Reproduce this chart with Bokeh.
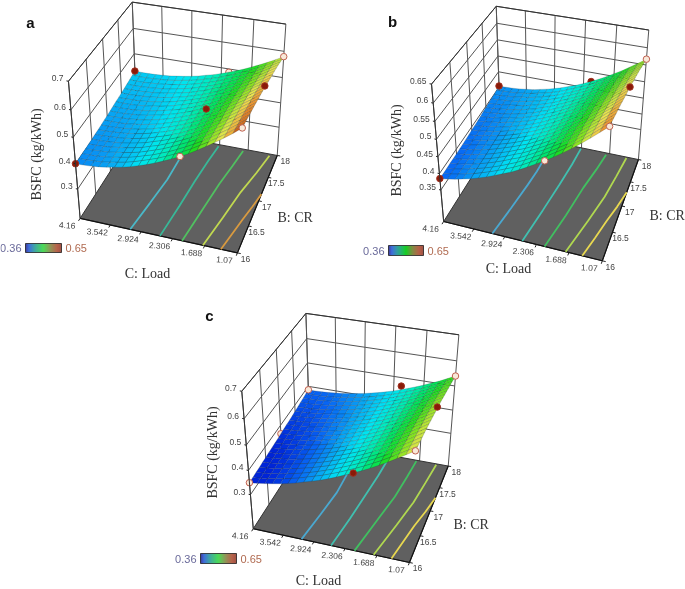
from bokeh.plotting import figure
from bokeh.embed import file_html
from bokeh.resources import INLINE
from bokeh.core.properties import value
import numpy as np

LOAD_TICKS = [4.16, 3.542, 2.924, 2.306, 1.688, 1.07]
CR_TICKS = [16, 16.5, 17, 17.5, 18]
Z_TICKS_A = [0.3, 0.4, 0.5, 0.6, 0.7]
Z_TICKS_B = [0.35, 0.4, 0.45, 0.5, 0.55, 0.6, 0.65]
Z_TICKS_C = [0.3, 0.4, 0.5, 0.6, 0.7]

# BSFC x 1000; rows CR 16 -> 18, columns Load 4.16 -> 1.07
SURF_A = [
[400,401,403,406,411,417,423,431,441,451,463,476,490,505,521,539,558,578,599,621,645],
[401,402,404,406,411,417,423,431,441,451,462,475,489,504,520,538,556,576,597,619,643],
[402,402,404,407,411,417,423,431,441,450,462,474,488,503,519,536,555,575,595,617,641],
[402,403,405,407,412,417,423,430,440,450,461,474,488,502,518,535,553,573,593,615,638],
[403,403,405,408,412,417,423,430,440,449,461,473,487,501,517,533,552,571,592,614,636],
[404,404,406,408,412,417,423,430,440,449,460,472,486,500,516,532,550,570,590,612,634],
[405,405,407,409,412,417,423,430,440,449,460,471,485,499,515,531,548,568,588,609,631],
[406,406,408,410,413,418,424,431,440,449,460,471,485,498,514,530,547,566,587,607,628],
[407,407,408,410,414,418,424,431,440,449,459,471,484,497,513,528,545,564,584,604,626],
[409,409,409,411,415,419,425,431,440,449,459,470,483,496,511,527,544,562,581,601,623],
[410,410,411,413,416,420,426,432,440,449,459,470,482,495,510,525,542,560,579,599,620],
[412,411,412,414,417,421,427,433,441,449,459,470,482,494,509,524,540,557,576,596,616],
[414,413,413,415,418,422,428,434,441,449,459,469,481,493,508,523,538,555,574,593,612],
[416,415,415,417,420,424,429,435,442,450,459,469,480,493,506,520,536,552,570,589,608],
[417,416,417,418,421,425,430,435,442,450,459,468,480,492,505,519,534,550,568,586,605],
[419,418,419,420,423,426,431,436,443,450,459,468,479,491,504,517,532,548,565,583,602],
[421,420,421,422,424,428,432,437,444,450,459,468,479,490,503,515,530,545,562,579,598],
[423,422,422,424,426,429,433,439,444,451,460,468,478,489,501,514,528,543,559,576,594],
[425,424,424,426,428,431,435,440,445,452,460,468,478,489,500,512,526,540,555,572,589],
[428,427,427,428,430,432,436,441,446,452,460,468,477,488,499,511,524,537,552,568,584],
[430,429,429,430,432,434,438,442,447,453,461,468,477,487,498,509,522,535,549,564,580]]
SURF_B = [
[385,389,394,400,406,414,422,432,442,452,464,477,491,505,520,536,553,571,590,610,630],
[385,389,394,400,406,414,422,431,441,451,463,476,490,504,519,534,551,569,588,608,628],
[385,389,394,400,406,413,421,430,440,450,462,475,488,502,517,532,549,567,586,606,626],
[386,389,394,399,406,413,421,430,440,449,461,474,487,501,516,531,548,565,584,603,623],
[386,389,394,399,405,412,420,429,439,448,460,472,485,499,514,529,546,563,582,601,621],
[386,389,394,399,405,412,420,428,438,447,459,471,484,498,513,528,544,561,580,599,619],
[387,390,394,399,405,412,420,428,437,446,458,470,483,496,511,526,542,559,578,596,616],
[387,390,395,399,405,412,419,427,436,445,457,468,481,495,509,524,540,557,575,594,613],
[388,391,395,400,405,411,419,427,436,445,456,467,480,493,507,522,538,555,573,591,610],
[389,391,396,400,405,411,418,426,435,444,455,466,478,492,506,520,536,552,570,589,608],
[390,392,396,400,405,411,418,425,434,443,454,465,477,490,504,518,534,550,568,586,605],
[391,393,397,401,405,411,418,425,433,442,453,464,476,488,502,516,532,547,565,583,602],
[392,394,398,401,406,411,418,424,433,442,452,463,475,486,500,514,529,544,562,580,598],
[393,395,398,402,406,411,417,424,432,441,451,461,473,485,498,511,527,542,559,576,595],
[395,396,399,402,407,411,417,423,432,440,450,460,471,483,496,509,524,539,556,573,591],
[396,397,400,403,407,411,417,423,431,439,449,459,470,481,494,507,522,537,553,570,588],
[397,398,401,404,408,411,417,423,430,438,448,458,468,479,492,505,519,534,550,566,584],
[399,400,402,404,408,412,417,423,430,438,447,457,467,478,490,503,516,531,547,562,579],
[400,401,403,405,409,412,417,423,430,437,446,455,465,476,488,500,514,527,543,558,575],
[402,403,404,406,409,413,418,423,429,436,445,454,464,474,486,497,511,524,540,555,571],
[404,404,405,407,410,413,418,423,429,436,444,452,462,472,483,495,508,521,536,551,567]]
SURF_C = [
[350,354,359,365,371,379,387,397,407,417,429,442,456,470,485,501,518,536,555,575,595],
[351,355,360,366,372,379,387,397,407,417,429,441,455,469,484,500,517,535,554,573,593],
[353,356,361,366,372,379,387,396,406,417,428,441,454,468,483,499,516,533,552,572,592],
[354,358,362,367,373,380,388,396,406,416,428,440,453,467,482,497,514,532,551,570,590],
[356,359,363,367,373,380,388,396,405,416,427,440,452,466,481,496,513,530,549,569,589],
[357,360,364,368,374,380,388,396,405,416,427,439,451,465,480,495,512,529,548,567,587],
[359,361,365,369,375,381,388,396,405,416,427,438,450,464,479,494,510,528,546,565,585],
[360,362,366,370,375,381,389,396,405,415,426,438,449,463,477,492,509,526,544,563,582],
[362,364,367,371,376,382,389,397,405,415,426,437,449,462,476,491,507,524,542,560,580],
[363,365,368,372,377,382,390,397,405,415,425,437,448,461,475,489,506,522,540,558,577],
[365,367,370,373,378,383,390,397,405,415,425,436,447,460,474,488,504,520,538,556,575],
[367,368,371,374,379,384,391,398,405,415,425,435,446,459,473,486,502,518,535,553,572],
[369,370,372,375,380,385,392,398,405,415,425,434,446,458,471,485,500,517,533,551,570],
[370,371,373,377,381,386,392,399,406,415,424,434,445,457,470,483,499,514,530,548,566],
[372,373,375,378,382,387,393,399,406,415,424,433,444,456,469,482,497,512,528,545,562],
[374,375,377,380,384,388,394,400,406,415,424,433,443,455,468,480,495,509,525,542,559],
[376,377,378,381,385,389,395,401,407,415,424,433,443,454,466,479,493,506,522,539,555],
[379,379,380,383,386,390,396,402,407,415,424,432,442,453,464,477,491,504,520,535,552],
[381,381,382,385,388,392,397,402,408,416,423,432,442,452,463,475,488,502,516,532,548],
[383,383,384,386,389,393,398,403,408,416,423,431,441,451,462,474,486,499,513,529,544],
[385,385,386,388,391,394,399,404,409,416,423,431,440,450,461,472,484,497,510,525,540]]

# load, CR, BSFC, 1 = dark marker above surface, 0 = pale marker
DOTS_A = [(2.15,18,.487,0),(4.16,16,.40,1),(2.15,16,.505,0),(1.07,16,.645,0),(1.07,17,.625,1),(1.07,18,.58,0),(2.15,17,.505,1),(4.16,18,.43,1)]
DOTS_B = [(2.15,18,.472,1),(4.16,16,.385,1),(2.15,16,.505,0),(1.07,16,.63,0),(1.07,17,.605,1),(1.07,18,.567,0),(4.16,18,.404,1)]
DOTS_C = [(4.16,17,.365,0),(2.15,18,.465,1),(4.16,16,.35,0),(2.15,16,.47,1),(1.07,16,.595,0),(1.07,17,.58,1),(1.07,18,.54,0),(4.16,18,.385,0)]
N_HIDDEN = [1,1,2]

CONT_A = [([3.14,3.05,2.97,2.95,2.99],[16,16.54,17.06,17.6,18]),([2.55,2.48,2.43,2.37,2.31],[16,16.6,17.14,17.6,17.96]),([2.12,2.03,1.94,1.85,1.78],[16,16.6,17.18,17.6,17.96]),([1.72,1.59,1.47,1.33,1.22],[16,16.55,17.1,17.55,17.96]),([1.38,1.30,1.22,1.14,1.07],[16,16.3,16.6,16.87,17.14])]
CONT_B = [([3.17,3.08,3.0,2.96,2.95],[16,16.5,17,17.3,17.5]),([2.58,2.48,2.40,2.34,2.31],[16,16.6,17.14,17.6,17.98]),([2.15,2.02,1.92,1.82,1.75],[16,16.6,17.18,17.6,17.96]),([1.75,1.58,1.45,1.38,1.32],[16,16.6,17.1,17.55,17.98]),([1.44,1.34,1.25,1.15,1.07],[16,16.33,16.66,16.97,17.28])]
CONT_C = [([3.17,3.08,3.0,3.0,3.0],[16,16.5,17,17.3,17.42]),([2.58,2.49,2.42,2.37,2.34],[16,16.55,17.1,17.5,17.88]),([2.12,1.98,1.85,1.79,1.75],[16,16.6,17.14,17.6,17.98]),([1.75,1.58,1.45,1.38,1.32],[16,16.6,17.1,17.55,17.98]),([1.41,1.33,1.25,1.15,1.07],[16,16.33,16.66,16.97,17.28])]
CONT_COL = ["#4ab8c8","#38b898","#50c060","#c0d850","#d89a40"]
CONT_COL_BC = ["#4aa8d0","#40c0b0","#40c060","#b0d850","#e8d850"]

STOPS_Z = [.36,.385,.41,.44,.47,.50,.53,.56,.59,.62,.65]
STOPS_C = ["#0024d8","#0864f4","#08a4f4","#00e4f4","#00ecbc","#00e464","#20dc20","#8ce420","#ece450","#ec9430","#982000"]
BAR_Z = [.36,.385,.43,.50,.56,.61,.65]
BAR_C = ["#000080","#0040d0","#008888","#10d020","#707020","#a03010","#801808"]

W,H = 685,589
p = figure(width=W,height=H,x_range=(0,W),y_range=(H,0),output_backend="svg",toolbar_location=None,min_border=0,outline_line_color=None,
           styles={"position":"fixed","left":"0px","top":"0px"})
p.xaxis.visible=False; p.yaxis.visible=False; p.grid.visible=False

def hex2(c): return np.array([int(c[i:i+2],16) for i in (1,3,5)],float)
def make_cmap(zs,cs):
    SC = np.array([hex2(c) for c in cs])
    def f(z):
        rgb=[np.interp(z,zs,SC[:,k]) for k in range(3)]
        return "#%02x%02x%02x"%tuple(int(x) for x in rgb)
    return f
cmap = make_cmap(STOPS_Z,STOPS_C)
barmap = make_cmap(BAR_Z,BAR_C)

def fit(anchors):
    A=[];b=[]
    for (X,Y,Z,x,y) in anchors:
        A.append([X,Y,Z,1,0,0,0,0,-x*X,-x*Y,-x*Z]);b.append(x)
        A.append([0,0,0,0,X,Y,Z,1,-y*X,-y*Y,-y*Z]);b.append(y)
    s=np.linalg.lstsq(np.array(A,float),np.array(b,float),rcond=None)[0]
    return np.append(s,1).reshape(3,4)

def panel(letter,lpos,anch,z0,ztop,zt,surf,dots,nh,cont,ccol,cbar,bsfc,cl,bcr):
    P=fit(anch)
    W_=lambda z:(np.asarray(z,float)-z0)/(ztop-z0)
    U=lambda l:(4.16-np.asarray(l,float))/3.09
    V=lambda c:(np.asarray(c,float)-16)/2
    def pr(u,v,w):
        u,v,w=np.broadcast_arrays(np.asarray(u,float),np.asarray(v,float),np.asarray(w,float))
        q=np.stack([u,v,w,np.ones_like(u)])
        r=P@q
        return r[0]/r[2],r[1]/r[2]
    def seg(u,v,w,**k):
        x,y=pr(u,v,w); p.line(x,y,**k)
    g=dict(line_color="#555555",line_width=1)
    for l in LOAD_TICKS:
        seg([U(l)]*2,[1,1],[0,1],**g)
    for c in CR_TICKS:
        seg([0,0],[V(c)]*2,[0,1],**g)
    for z in zt:
        seg([0,0,1],[0,1,1],[W_(z)]*3,**g)
    seg([0,0,1],[0,1,1],[1,1,1],line_color="#333333",line_width=1)
    fx,fy=pr([0,1,1,0],[0,0,1,1],[0,0,0,0])
    p.patch(fx,fy,fill_color="#606060",line_color="#333333",line_width=1)
    seg([0,1,1],[0,0,1],[0,0,0],line_color="#111111",line_width=1.2)
    for (ls,cs),col in zip(cont,ccol):
        x,y=pr(U(ls),V(cs),0*np.array(ls)); p.line(x,y,line_color=col,line_width=1.8)
    def dot(d):
        l,c,z,f=d
        x,y=pr(U(l),V(c),W_(z))
        p.scatter([float(x)],[float(y)],size=6.5,fill_color="#8a1a08" if f else "#f8e8d8",line_color="#a03020" if f else "#c06050",line_width=1)
    for d in dots[:nh]:
        dot(d)
    T=np.array(surf)/1000.0;nr,nc=T.shape
    xs=[];ys=[];cols=[]
    for j in range(nr-2,-1,-1):
        for i in range(nc-1):
            uu=[i/(nc-1),(i+1)/(nc-1),(i+1)/(nc-1),i/(nc-1)]
            vv=[j/(nr-1),j/(nr-1),(j+1)/(nr-1),(j+1)/(nr-1)]
            zz=[T[j,i],T[j,i+1],T[j+1,i+1],T[j+1,i]]
            x,y=pr(uu,vv,W_(zz))
            xs.append(list(x));ys.append(list(y));cols.append(cmap(np.mean(zz)))
    p.patches(xs,ys,fill_color=cols,line_color="#1a2a30",line_alpha=.38,line_width=.5)
    for d in dots[nh:]:
        dot(d)
    ts=dict(text_font=value("Liberation Sans"),text_font_size="8.5px",text_color="#444444")
    for l in LOAD_TICKS:
        x,y=pr(U(l),0,0); x1,y1=pr(U(l),-.025,0)
        p.line([x,x1],[y,y1],line_color="#222222")
        p.text([float(x)-13],[float(y)+7],text=["%g"%l],text_align="center",text_baseline="middle",angle=-.07,**ts)
    for c in CR_TICKS:
        x,y=pr(1,V(c),0); x1,y1=pr(1.02,V(c),0)
        p.line([x,x1],[y,y1],line_color="#222222")
        p.text([float(x)+8],[float(y)+6],text=["%g"%c],text_align="center",text_baseline="middle",**ts)
    for z in zt:
        x,y=pr(0,0,W_(z)); x1,y1=pr(-.012,0,W_(z))
        p.line([x,x1],[y,y1],line_color="#222222")
        p.text([float(x)-5],[float(y)-3],text=["%g"%z],text_align="right",text_baseline="middle",**ts)
    seg([0,0],[0,0],[0,1],line_color="#333333",line_width=1)
    bx0,bx1,by0,by1=cbar
    zs=np.linspace(.36,.65,37)
    dx=(bx1-bx0)/36
    p.quad(left=[bx0+k*dx for k in range(36)],right=[bx0+(k+1)*dx for k in range(36)],top=[by0]*36,bottom=[by1]*36,fill_color=[barmap(z) for z in zs[:-1]],line_color=None)
    p.quad(left=[bx0],right=[bx1],top=[by0],bottom=[by1],fill_color=None,line_color="#222222",line_width=.8)
    p.text([bx0-4],[(by0+by1)/2],text=["0.36"],text_align="right",text_baseline="middle",text_font=value("Liberation Sans"),text_font_size="11px",text_color="#6a6a9a")
    p.text([bx1+4],[(by0+by1)/2],text=["0.65"],text_align="left",text_baseline="middle",text_font=value("Liberation Sans"),text_font_size="11px",text_color="#b06a50")
    ls=dict(text_font=value("Liberation Serif"),text_font_size="14px",text_color="#333333",text_baseline="middle")
    p.text([bsfc[0]],[bsfc[1]],text=["BSFC (kg/kWh)"],text_align="center",angle=np.pi/2,**ls)
    p.text([cl[0]],[cl[1]],text=["C: Load"],text_align="center",**ls)
    p.text([bcr[0]],[bcr[1]],text=["B: CR"],text_align="left",**ls)
    p.text([lpos[0]],[lpos[1]],text=[letter],text_align="center",text_baseline="middle",text_font=value("Liberation Sans"),text_font_style="bold",text_font_size="15px",text_color="#111111")

panel("a",(30,22),[(0,0,0,80,217),(1,0,0,237,253),(1,1,0,277,154),(0,1,0,136,130),(0,0,1,67.5,81),(0,1,1,132.5,1),(1,1,1,285,24)],
      .18,.7,Z_TICKS_A,SURF_A,DOTS_A,N_HIDDEN[0],CONT_A,CONT_COL,(25,61,243,252),(36,154),(147,273),(277,217))
panel("b",(392,21),[(0,0,0,443,220),(1,0,0,602,261),(1,1,0,638,158),(0,1,0,500,132),(0,0,1,431,84),(0,1,1,496,5),(1,1,1,648,30)],
      .25,.65,Z_TICKS_B,SURF_B,DOTS_B,N_HIDDEN[1],CONT_B,CONT_COL_BC,(388,423,245,255),(396,150),(508,268),(649,215))
panel("c",(209,315),[(0,0,0,253,527),(1,0,0,409,563),(1,1,0,448,464),(0,1,0,309,442),(0,0,1,241,391),(0,1,1,306,312),(1,1,1,458,335)],
      .153,.7,Z_TICKS_C,SURF_C,DOTS_C,N_HIDDEN[2],CONT_C,CONT_COL_BC,(200,236,553,563),(212,452),(318,580),(453,524))

open("out.html","w").write(file_html(p,INLINE))
